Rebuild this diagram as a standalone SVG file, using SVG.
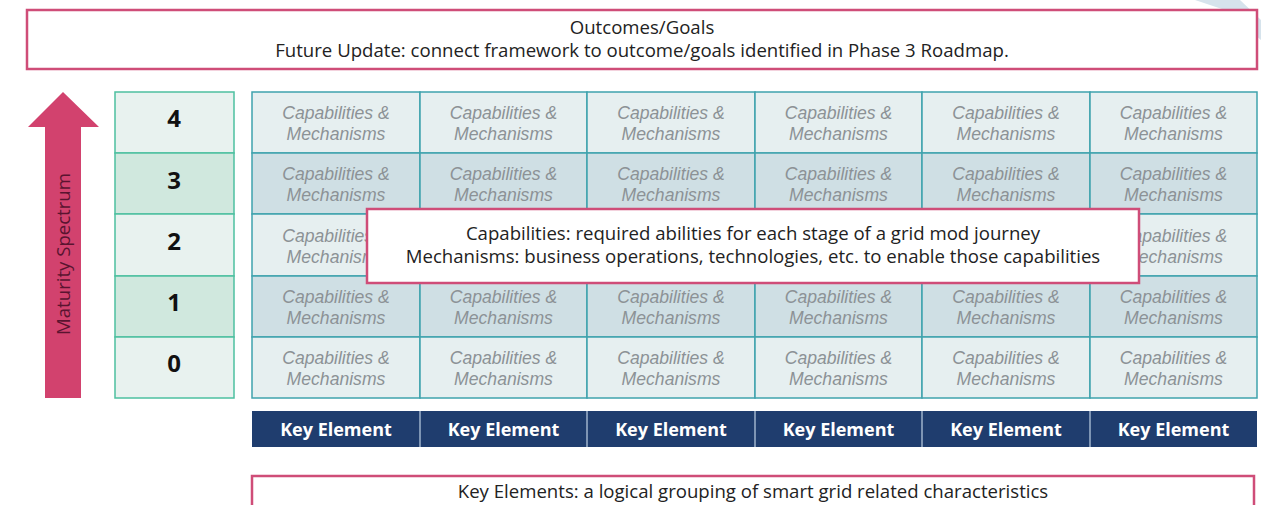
<svg xmlns="http://www.w3.org/2000/svg" width="1261" height="505" viewBox="0 0 1261 505">
<style>
.pink{fill:#fff;stroke:#cf4d78;stroke-width:2.5}
.cm{font-family:"Liberation Sans",Arial,sans-serif;font-style:italic;font-size:17.6px;fill:#8c9296;text-anchor:middle}
.lvl{font-family:"Open Sans","Liberation Sans",sans-serif;font-weight:bold;font-size:24px;fill:#111;text-anchor:middle;dominant-baseline:central}
.note{font-family:"Open Sans","Liberation Sans",sans-serif;font-size:18.6px;fill:#222;text-anchor:middle}
.ke{font-family:"Open Sans","Liberation Sans",sans-serif;font-weight:bold;font-size:18px;fill:#fff;text-anchor:middle;dominant-baseline:central}
.gl{fill:#e6eff0;stroke:#3fa3ad;stroke-width:1.5}
.gd{fill:#cfdfe4;stroke:#3fa3ad;stroke-width:1.5}
.ll{fill:#e8f2ef;stroke:#4dc0a0;stroke-width:1.5}
.ld{fill:#d0e8de;stroke:#4dc0a0;stroke-width:1.5}
</style>
<rect width="1261" height="505" fill="#fff"/>
<polygon points="1195,0 1240,0 1261,20 1261,40 1225,10" fill="#d6e3ec"/>
<g id="outcomes">
<rect class="pink" x="27" y="10" width="1230" height="59"/>
<text class="note" x="642" y="34">Outcomes/Goals</text>
<text class="note" x="642" y="57">Future Update: connect framework to outcome/goals identified in Phase 3 Roadmap.</text>
</g>
<g id="maturity-arrow">
<polygon points="63,92 99,127 81,127 81,398 45,398 45,127 28,127" fill="#d2426e"/>
<text transform="translate(70,254) rotate(-90)" font-family="Open Sans,Liberation Sans,sans-serif" font-size="18.6" fill="#5a1430" text-anchor="middle">Maturity Spectrum</text>
</g>
<g id="levels">
<rect class="ll" x="115" y="92" width="119" height="61"/><text class="lvl" x="174" y="117">4</text>
<rect class="ld" x="115" y="153" width="119" height="61"/><text class="lvl" x="174" y="179">3</text>
<rect class="ll" x="115" y="214" width="119" height="62"/><text class="lvl" x="174" y="240">2</text>
<rect class="ld" x="115" y="276" width="119" height="61"/><text class="lvl" x="174" y="301">1</text>
<rect class="ll" x="115" y="337" width="119" height="61"/><text class="lvl" x="174" y="362">0</text>
</g>
<g id="grid">
<g id="row4">
<rect class="gl" x="252" y="92" width="168" height="61"/><rect class="gl" x="420" y="92" width="167" height="61"/><rect class="gl" x="587" y="92" width="168" height="61"/><rect class="gl" x="755" y="92" width="167" height="61"/><rect class="gl" x="922" y="92" width="168" height="61"/><rect class="gl" x="1090" y="92" width="167" height="61"/>
</g>
<g id="row3">
<rect class="gd" x="252" y="153" width="168" height="61"/><rect class="gd" x="420" y="153" width="167" height="61"/><rect class="gd" x="587" y="153" width="168" height="61"/><rect class="gd" x="755" y="153" width="167" height="61"/><rect class="gd" x="922" y="153" width="168" height="61"/><rect class="gd" x="1090" y="153" width="167" height="61"/>
</g>
<g id="row2">
<rect class="gl" x="252" y="214" width="168" height="62"/><rect class="gl" x="420" y="214" width="167" height="62"/><rect class="gl" x="587" y="214" width="168" height="62"/><rect class="gl" x="755" y="214" width="167" height="62"/><rect class="gl" x="922" y="214" width="168" height="62"/><rect class="gl" x="1090" y="214" width="167" height="62"/>
</g>
<g id="row1">
<rect class="gd" x="252" y="276" width="168" height="61"/><rect class="gd" x="420" y="276" width="167" height="61"/><rect class="gd" x="587" y="276" width="168" height="61"/><rect class="gd" x="755" y="276" width="167" height="61"/><rect class="gd" x="922" y="276" width="168" height="61"/><rect class="gd" x="1090" y="276" width="167" height="61"/>
</g>
<g id="row0">
<rect class="gl" x="252" y="337" width="168" height="61"/><rect class="gl" x="420" y="337" width="167" height="61"/><rect class="gl" x="587" y="337" width="168" height="61"/><rect class="gl" x="755" y="337" width="167" height="61"/><rect class="gl" x="922" y="337" width="168" height="61"/><rect class="gl" x="1090" y="337" width="167" height="61"/>
</g>
<g id="cell-texts">
<text class="cm" x="336" y="119">Capabilities &amp;<tspan x="336" dy="21">Mechanisms</tspan></text>
<text class="cm" x="503.5" y="119">Capabilities &amp;<tspan x="503.5" dy="21">Mechanisms</tspan></text>
<text class="cm" x="671" y="119">Capabilities &amp;<tspan x="671" dy="21">Mechanisms</tspan></text>
<text class="cm" x="838.5" y="119">Capabilities &amp;<tspan x="838.5" dy="21">Mechanisms</tspan></text>
<text class="cm" x="1006" y="119">Capabilities &amp;<tspan x="1006" dy="21">Mechanisms</tspan></text>
<text class="cm" x="1173.5" y="119">Capabilities &amp;<tspan x="1173.5" dy="21">Mechanisms</tspan></text>
<text class="cm" x="336" y="180">Capabilities &amp;<tspan x="336" dy="21">Mechanisms</tspan></text>
<text class="cm" x="503.5" y="180">Capabilities &amp;<tspan x="503.5" dy="21">Mechanisms</tspan></text>
<text class="cm" x="671" y="180">Capabilities &amp;<tspan x="671" dy="21">Mechanisms</tspan></text>
<text class="cm" x="838.5" y="180">Capabilities &amp;<tspan x="838.5" dy="21">Mechanisms</tspan></text>
<text class="cm" x="1006" y="180">Capabilities &amp;<tspan x="1006" dy="21">Mechanisms</tspan></text>
<text class="cm" x="1173.5" y="180">Capabilities &amp;<tspan x="1173.5" dy="21">Mechanisms</tspan></text>
<text class="cm" x="336" y="242">Capabilities &amp;<tspan x="336" dy="21">Mechanisms</tspan></text>
<text class="cm" x="1173.5" y="242">Capabilities &amp;<tspan x="1173.5" dy="21">Mechanisms</tspan></text>
<text class="cm" x="336" y="303">Capabilities &amp;<tspan x="336" dy="21">Mechanisms</tspan></text>
<text class="cm" x="503.5" y="303">Capabilities &amp;<tspan x="503.5" dy="21">Mechanisms</tspan></text>
<text class="cm" x="671" y="303">Capabilities &amp;<tspan x="671" dy="21">Mechanisms</tspan></text>
<text class="cm" x="838.5" y="303">Capabilities &amp;<tspan x="838.5" dy="21">Mechanisms</tspan></text>
<text class="cm" x="1006" y="303">Capabilities &amp;<tspan x="1006" dy="21">Mechanisms</tspan></text>
<text class="cm" x="1173.5" y="303">Capabilities &amp;<tspan x="1173.5" dy="21">Mechanisms</tspan></text>
<text class="cm" x="336" y="364">Capabilities &amp;<tspan x="336" dy="21">Mechanisms</tspan></text>
<text class="cm" x="503.5" y="364">Capabilities &amp;<tspan x="503.5" dy="21">Mechanisms</tspan></text>
<text class="cm" x="671" y="364">Capabilities &amp;<tspan x="671" dy="21">Mechanisms</tspan></text>
<text class="cm" x="838.5" y="364">Capabilities &amp;<tspan x="838.5" dy="21">Mechanisms</tspan></text>
<text class="cm" x="1006" y="364">Capabilities &amp;<tspan x="1006" dy="21">Mechanisms</tspan></text>
<text class="cm" x="1173.5" y="364">Capabilities &amp;<tspan x="1173.5" dy="21">Mechanisms</tspan></text>
</g>
</g>
<g id="definitions">
<rect class="pink" x="367" y="209" width="772" height="74"/>
<text class="note" x="753" y="240">Capabilities: required abilities for each stage of a grid mod journey</text>
<text class="note" x="753" y="263">Mechanisms: business operations, technologies, etc. to enable those capabilities</text>
</g>
<g id="key-elements">
<rect x="252" y="411" width="1005" height="36" fill="#1f3d6e"/>
<g stroke="#9fb3cc" stroke-width="1.5">
<line x1="420" y1="411" x2="420" y2="447"/><line x1="587" y1="411" x2="587" y2="447"/><line x1="755" y1="411" x2="755" y2="447"/><line x1="922" y1="411" x2="922" y2="447"/><line x1="1090" y1="411" x2="1090" y2="447"/>
</g>
<text class="ke" x="336" y="429">Key Element</text>
<text class="ke" x="503.5" y="429">Key Element</text>
<text class="ke" x="671" y="429">Key Element</text>
<text class="ke" x="838.5" y="429">Key Element</text>
<text class="ke" x="1006" y="429">Key Element</text>
<text class="ke" x="1173.5" y="429">Key Element</text>
</g>
<g id="key-elements-note">
<rect class="pink" x="252" y="476" width="1002" height="40"/>
<text class="note" x="753" y="498">Key Elements: a logical grouping of smart grid related characteristics</text>
</g>
<g id="connectors"></g>
</svg>
